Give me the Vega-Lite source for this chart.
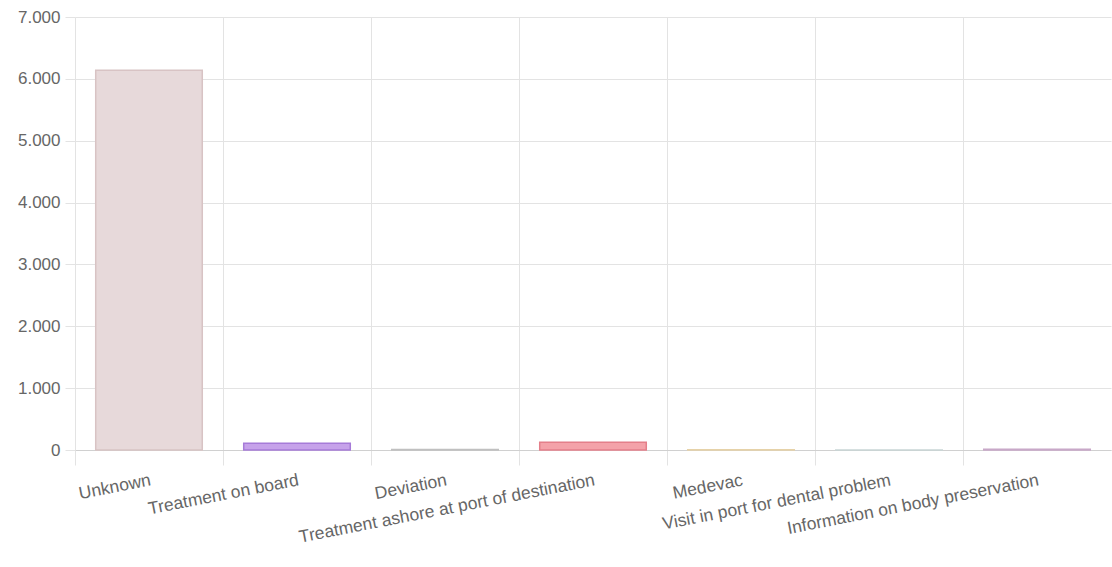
{
  "$schema": "https://vega.github.io/schema/vega-lite/v6.json",
  "autosize": {"type": "none"},
  "padding": {"left": 75, "top": 17, "right": 1, "bottom": 117},
  "width": 1036,
  "height": 433,
  "background": "white",
  "data": {"values": [
    {"category": "Unknown", "count": 6140},
    {"category": "Treatment on board", "count": 110},
    {"category": "Deviation", "count": 10},
    {"category": "Treatment ashore at port of destination", "count": 125},
    {"category": "Medevac", "count": 6},
    {"category": "Visit in port for dental problem", "count": 2},
    {"category": "Information on body preservation", "count": 12}
  ]},
  "mark": {"type": "bar", "width": {"band": 0.72}, "strokeWidth": 1.5, "cornerRadius": 0},
  "encoding": {
    "x": {
      "field": "category", "type": "nominal", "sort": null,
      "scale": {"paddingInner": 0, "paddingOuter": 0},
      "axis": {
        "title": null, "bandPosition": 0, "labelOffset": 0,
        "labelAngle": -11, "labelAlign": "right", "labelBaseline": "top",
        "labelPadding": 6, "tickSize": 15, "tickColor": "#e3e3e3",
        "grid": true, "gridColor": "#e3e3e3", "domain": true, "domainColor": "#d0d0d0",
        "labelFont": "Liberation Sans", "labelFontSize": 17.5, "labelColor": "#666666",
        "labelOverlap": false, "labelLimit": 400
      }
    },
    "y": {
      "field": "count", "type": "quantitative",
      "scale": {"domain": [0, 7000], "nice": false},
      "axis": {
        "title": null, "values": [0, 1000, 2000, 3000, 4000, 5000, 6000, 7000],
        "labelExpr": "replace(format(datum.value, ','), ',', '.')",
        "tickSize": 10, "tickColor": "#e3e3e3", "labelPadding": 5,
        "grid": true, "gridColor": "#e3e3e3", "domain": false,
        "labelFont": "Liberation Sans", "labelFontSize": 17, "labelColor": "#666666"
      }
    },
    "color": {
      "field": "category", "type": "nominal", "legend": null,
      "scale": {
        "domain": ["Unknown", "Treatment on board", "Deviation", "Treatment ashore at port of destination", "Medevac", "Visit in port for dental problem", "Information on body preservation"],
        "range": ["#e7d9da", "#c6a2ea", "#d6d6d6", "#f4a2a9", "#efe0c4", "#dde6e6", "#dcc4dc"]
      }
    },
    "stroke": {
      "field": "category", "type": "nominal", "legend": null,
      "scale": {
        "domain": ["Unknown", "Treatment on board", "Deviation", "Treatment ashore at port of destination", "Medevac", "Visit in port for dental problem", "Information on body preservation"],
        "range": ["#d8c3c4", "#a67bd8", "#c0c0c0", "#e47f8a", "#e6d2a8", "#c8d6d6", "#c8a8c8"]
      }
    }
  },
  "config": {"view": {"stroke": null}}
}
